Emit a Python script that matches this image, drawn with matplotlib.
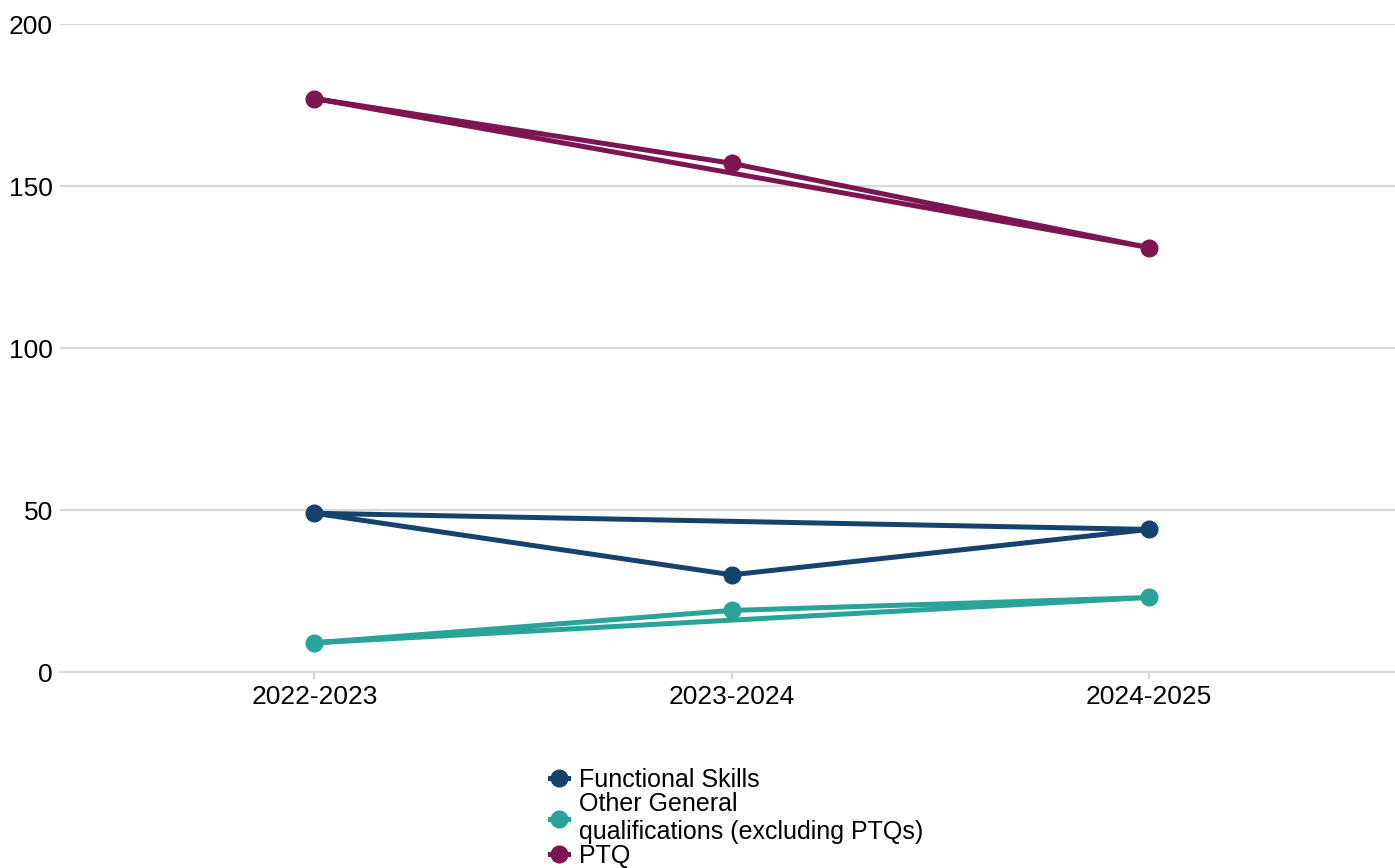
import matplotlib
matplotlib.use('Agg')
import matplotlib.pyplot as plt

plt.rcParams['font.family'] = ['Liberation Sans', 'DejaVu Sans']

years = ['2022-2023', '2023-2024', '2024-2025']
functional_skills = [49, 30, 44]
other_general = [9, 19, 23]
ptq = [177, 157, 131]

series = [
    ('Functional Skills', functional_skills, '#15436d'),
    ('Other General\nqualifications (excluding PTQs)', other_general, '#2aa398'),
    ('PTQ', ptq, '#7b1650'),
]

fig = plt.figure(figsize=(13.95, 8.68), dpi=100)
ax = fig.add_axes([60 / 1395, (868 - 672) / 868, 1 - 60 / 1395, (672 - 24) / 868])

xs = list(range(len(years)))
for label, vals, col in series:
    # the path closes back on the first year, as in the source chart
    ax.plot(xs + [xs[0]], vals + [vals[0]], color=col, lw=3.6,
            solid_joinstyle='round', solid_capstyle='round', zorder=3)
    ax.plot(xs, vals, 'o', color=col, ms=12, zorder=4, label=label)

ax.set_xlim(-0.61, 2.59)
ax.set_ylim(0, 200)
ax.set_yticks([0, 50, 100, 150, 200])
ax.set_xticks(xs)
ax.set_xticklabels(years)
ax.grid(axis='y', color='#d9d9d9', lw=1.6, zorder=0)
ax.set_axisbelow(True)
for s in ['top', 'right', 'left']:
    ax.spines[s].set_visible(False)
ax.spines['bottom'].set_color('#d9d9d9')
ax.spines['bottom'].set_linewidth(1.6)
ax.tick_params(axis='y', length=0, pad=5, labelsize=19)
ax.tick_params(axis='x', length=5, color='#d9d9d9', width=1.6, pad=4, labelsize=19)

handles = []
for label, vals, col in series:
    h, = ax.plot([], [], color=col, lw=3.6, marker='o', ms=12)
    handles.append(h)
fig.legend(handles, [s[0] for s in series], loc='upper left',
           bbox_to_anchor=(550 / 1395, 1 - 768 / 868), frameon=False,
           fontsize=18, handlelength=0.7, handletextpad=0.45,
           labelspacing=0.0, borderpad=0, borderaxespad=0)

fig.savefig('out.png', dpi=100)
